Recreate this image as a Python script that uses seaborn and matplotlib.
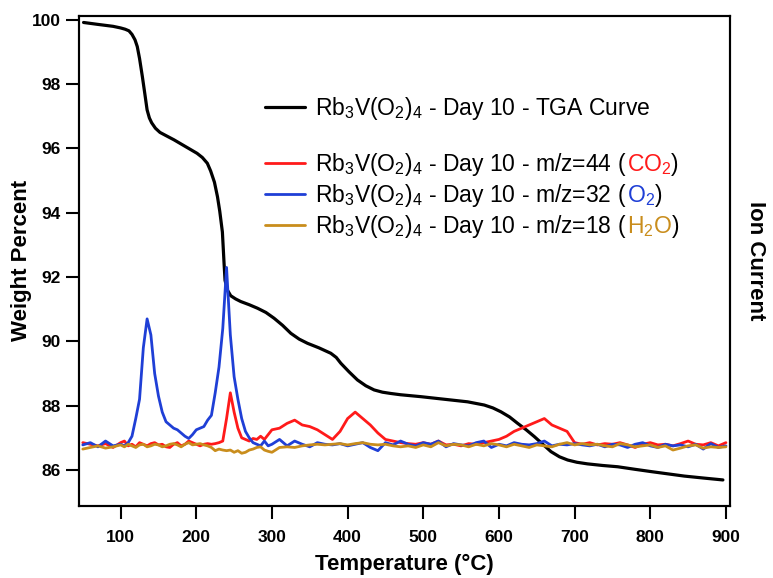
import numpy as np
import pandas as pd
import matplotlib
matplotlib.use("Agg")
import matplotlib.pyplot as plt
import seaborn as sns
from matplotlib.lines import Line2D
from matplotlib.transforms import offset_copy

# TGA curve (weight %)
tga_temp = [51, 70, 90, 100, 106, 111, 115, 119, 122, 125, 128.7, 132, 135, 138, 141, 146, 152,
            160, 170.5, 185, 201, 208, 214.6, 219, 224, 228, 231, 234.5, 236.7, 238, 241,
            245.5, 252, 258.7, 270, 281, 292, 302.8, 314, 325, 336, 347, 362, 377.8, 385, 391,
            402, 413, 424, 435, 446, 457, 470, 497, 527.7, 558.6, 580.6, 592, 602.6, 614,
            624.7, 636, 646.7, 658, 668.8, 680, 690.8, 703, 717, 737, 757, 780, 801, 823, 845,
            870, 896]
tga_weight = [99.92, 99.86, 99.8, 99.75, 99.71, 99.66, 99.55, 99.38, 99.17, 98.8, 98.24, 97.7,
              97.2, 96.95, 96.8, 96.63, 96.5, 96.4, 96.27, 96.07, 95.85, 95.72, 95.54, 95.3,
              94.95, 94.5, 94.05, 93.4, 92.43, 91.9, 91.6, 91.42, 91.32, 91.24, 91.14, 91.03,
              90.9, 90.72, 90.5, 90.25, 90.07, 89.94, 89.8, 89.63, 89.5, 89.32, 89.05, 88.8,
              88.62, 88.49, 88.42, 88.38, 88.34, 88.28, 88.2, 88.12, 88.02, 87.93, 87.81,
              87.65, 87.45, 87.25, 87.04, 86.8, 86.57, 86.41, 86.31, 86.24, 86.19, 86.14, 86.1,
              86.02, 85.95, 85.88, 85.81, 85.75, 85.69]

# mass spec temperatures
ms_temp = ([50, 60, 70, 80, 90] + list(range(100, 300, 5)) + list(range(300, 901, 10)))

# m/z = 32 (O2)
o2 = [86.78, 86.85, 86.72, 86.9, 86.75,
      86.8, 86.75, 86.85, 87.05, 87.6, 88.2, 89.8, 90.7, 90.2, 89.0,
      88.3, 87.8, 87.5, 87.4, 87.3, 87.25, 87.15, 87.05, 86.98, 87.1,
      87.25, 87.3, 87.35, 87.55, 87.7, 88.4, 89.2, 90.4, 92.3, 90.2,
      88.9, 88.2, 87.6, 87.2, 87.0, 86.85, 86.8, 86.75, 86.9, 86.75,
      86.8, 86.95, 86.75, 86.9, 86.8, 86.72, 86.85, 86.8, 86.78, 86.82,
      86.75, 86.8, 86.85, 86.7, 86.6, 86.85, 86.78, 86.9, 86.8, 86.75,
      86.85, 86.8, 86.9, 86.72, 86.82, 86.78, 86.75, 86.85, 86.9, 86.7,
      86.8, 86.75, 86.85, 86.8, 86.78, 86.82, 86.9, 86.75, 86.8, 86.78,
      86.82, 86.78, 86.75, 86.8, 86.72, 86.8, 86.78, 86.7, 86.8, 86.85,
      86.75, 86.7, 86.8, 86.75, 86.78, 86.72, 86.8, 86.65, 86.82, 86.7, 86.75]

# m/z = 44 (CO2)
co2 = [86.85, 86.8, 86.75, 86.82, 86.7,
       86.85, 86.9, 86.75, 86.8, 86.72, 86.85, 86.8, 86.75, 86.82, 86.85,
       86.78, 86.8, 86.72, 86.7, 86.8, 86.85, 86.75, 86.8, 86.9, 86.85,
       86.8, 86.75, 86.8, 86.82, 86.8, 86.82, 86.85, 86.9, 87.6, 88.4,
       87.8, 87.3, 87.0, 86.95, 86.9, 86.98, 86.95, 87.05, 86.95, 87.1,
       87.25, 87.3, 87.45, 87.55, 87.4, 87.35, 87.25, 87.1, 86.95, 87.2,
       87.6, 87.8, 87.6, 87.4, 87.15, 86.95, 86.9, 86.85, 86.82, 86.8,
       86.85, 86.8, 86.9, 86.78, 86.8, 86.75, 86.82, 86.8, 86.85, 86.9,
       86.95, 87.05, 87.2, 87.3, 87.4, 87.5, 87.6, 87.4, 87.3, 87.2,
       86.85, 86.8, 86.85, 86.78, 86.82, 86.8, 86.85, 86.78, 86.7, 86.8,
       86.85, 86.78, 86.8, 86.75, 86.82, 86.9, 86.8, 86.78, 86.85, 86.75, 86.85]

# m/z = 18 (H2O)
h2o = [86.65, 86.7, 86.75, 86.68, 86.72,
       86.78, 86.72, 86.8, 86.75, 86.7, 86.78, 86.8, 86.72, 86.75, 86.8,
       86.78, 86.72, 86.75, 86.8, 86.82, 86.78, 86.72, 86.8, 86.85, 86.78,
       86.8, 86.82, 86.78, 86.75, 86.7, 86.6, 86.65, 86.62, 86.6, 86.62,
       86.55, 86.6, 86.52, 86.55, 86.62, 86.65, 86.7, 86.72, 86.62, 86.58,
       86.55, 86.7, 86.72, 86.7, 86.75, 86.78, 86.8, 86.78, 86.8, 86.82,
       86.78, 86.82, 86.85, 86.8, 86.78, 86.8, 86.75, 86.72, 86.75, 86.7,
       86.78, 86.72, 86.85, 86.75, 86.8, 86.78, 86.72, 86.8, 86.75, 86.82,
       86.78, 86.72, 86.8, 86.75, 86.7, 86.78, 86.75, 86.72, 86.8, 86.85,
       86.78, 86.82, 86.78, 86.8, 86.75, 86.72, 86.82, 86.78, 86.72, 86.75,
       86.78, 86.7, 86.75, 86.62, 86.68, 86.75, 86.78, 86.68, 86.72, 86.7, 86.72]

c_tga = "black"
c_co2 = "#ff1a1a"
c_o2 = "#1f3fd6"
c_h2o = "#c98d1c"

sns.set_style("ticks")
plt.rcParams['font.family'] = ['Liberation Sans', 'DejaVu Sans']
plt.rcParams['mathtext.default'] = 'regular'
plt.rcParams['text.color'] = 'black'
plt.rcParams['axes.labelcolor'] = 'black'
plt.rcParams['xtick.color'] = 'black'
plt.rcParams['ytick.color'] = 'black'

fig = plt.figure(figsize=(7.73, 5.78), dpi=100)
ax = fig.add_axes([0.1028, 0.1246, 0.8415, 0.8482])
ax2 = ax.twinx()

sns.lineplot(x=tga_temp, y=tga_weight, ax=ax, color=c_tga, lw=2.3, sort=False)
sns.lineplot(x=ms_temp, y=co2, ax=ax2, color=c_co2, lw=2.0, sort=False)
sns.lineplot(x=ms_temp, y=o2, ax=ax2, color=c_o2, lw=2.0, sort=False)
sns.lineplot(x=ms_temp, y=h2o, ax=ax2, color=c_h2o, lw=2.0, sort=False)

ax.set_xlim(45.6, 905.3)
ax.set_ylim(84.88, 100.13)
ax2.set_ylim(84.88, 100.13)
ax.set_xticks([100, 200, 300, 400, 500, 600, 700, 800, 900])
ax.set_yticks([86, 88, 90, 92, 94, 96, 98, 100])

for a in (ax, ax2):
    for s in a.spines.values():
        s.set_linewidth(1.5)
        s.set_color("black")
ax.tick_params(axis='both', direction='out', length=9.5, width=1.5, labelsize=12.5,
               colors='black', labelcolor='black')
ax.tick_params(axis='x', pad=8)
ax.tick_params(axis='y', pad=4)
for lab in ax.get_xticklabels() + ax.get_yticklabels():
    lab.set_fontweight('bold')
ax2.tick_params(axis='y', length=0, labelright=False)

ax.set_xlabel("Temperature (°C)", fontsize=16, fontweight='bold', labelpad=6, color='black')
ax.set_ylabel("Weight Percent", fontsize=16, fontweight='bold', color='black')
ax.yaxis.set_label_coords(-0.073, 0.5)
ax2.set_ylabel("Ion Current", fontsize=16, fontweight='bold', rotation=-90, labelpad=26,
               color='black')

base = "Rb$_3$V(O$_2$)$_4$ - Day 10 - "
leg_fs = 16.5
leg_kw = dict(loc='upper left', frameon=False, fontsize=leg_fs, handlelength=1.75,
              handletextpad=0.45, borderpad=0, borderaxespad=0, labelspacing=0.18)

# TGA entry
leg1 = ax2.legend([Line2D([], [], color=c_tga, lw=2.3)], [base + "TGA Curve"],
                  bbox_to_anchor=(0.285, 0.839), **leg_kw)
ax2.add_artist(leg1)

# mass spec entries, the species name is coloured like its line
ms_handles = [Line2D([], [], color=c_co2, lw=2.0),
              Line2D([], [], color=c_o2, lw=2.0),
              Line2D([], [], color=c_h2o, lw=2.0)]
ms_labels = [base + "m/z=44 (", base + "m/z=32 (", base + "m/z=18 ("]
extras = [[("CO$_2$", c_co2), (")", "black")],
          [("O$_2$", c_o2), (")", "black")],
          [("H$_2$O", c_h2o), (")", "black")]]
leg2 = ax2.legend(ms_handles, ms_labels, bbox_to_anchor=(0.285, 0.724), **leg_kw)
for t in leg1.get_texts() + leg2.get_texts():
    t.set_color('black')

fig.canvas.draw()
renderer = fig.canvas.get_renderer()
for txt, parts in zip(leg2.get_texts(), extras):
    t = txt
    for s, c in parts:
        ex = t.get_window_extent(renderer)
        t = fig.text(0, 0, s, color=c, fontsize=leg_fs, va='baseline', ha='left',
                     transform=offset_copy(t.get_transform(), x=ex.width, units='dots'))
        t.draw(renderer)

fig.savefig("out.png", dpi=100)
